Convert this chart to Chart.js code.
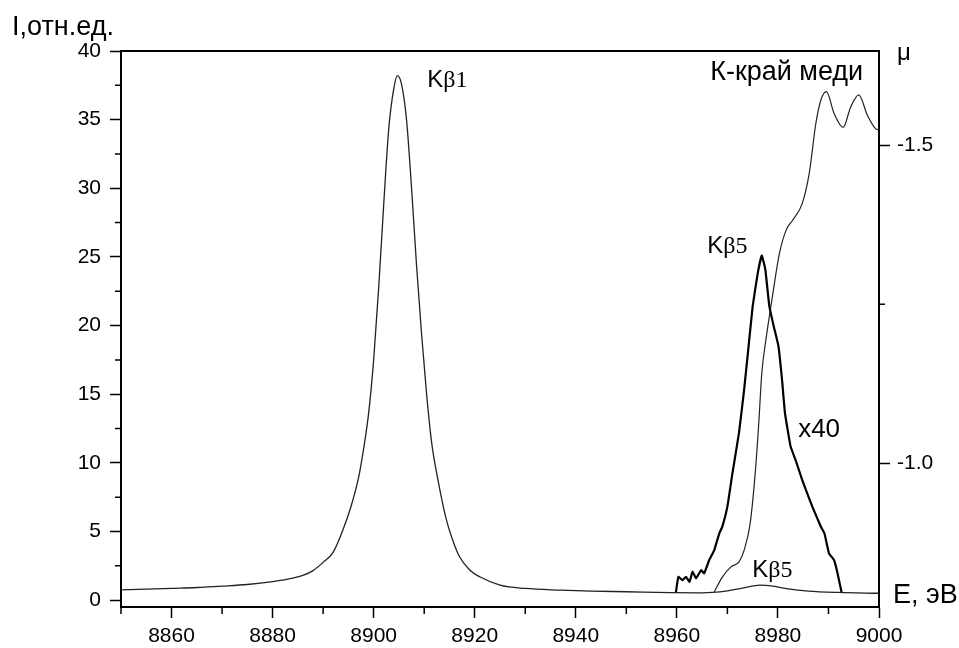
<!DOCTYPE html>
<html>
<head>
<meta charset="utf-8">
<script src="https://cdn.jsdelivr.net/npm/chart.js@4.4.0/dist/chart.umd.min.js"></script>
<style>html,body{margin:0;padding:0;background:#fff}</style>
</head>
<body>
<canvas id="c" width="959" height="648"></canvas>
<script>
// emission spectrum, thin line (left axis)
const specE = [8850, 8855, 8860, 8865, 8870, 8875, 8880, 8884, 8886, 8888, 8890, 8892, 8894, 8895.5, 8897, 8898, 8899,
  8900, 8901, 8902, 8903, 8904, 8904.7, 8905.5, 8906.5, 8907.5, 8908.5, 8909.5, 8910.5, 8911.5, 8912.7, 8914.4,
  8916, 8917, 8919, 8921, 8925, 8930, 8937, 8943, 8950, 8959, 8965,
  8967, 8970, 8973, 8976.5, 8979, 8982, 8986, 8992, 9000];
const specI = [0.75, 0.8, 0.86, 0.92, 1.02, 1.14, 1.35, 1.6, 1.8, 2.15, 2.75, 3.5, 5.2, 6.8, 8.9, 11.0, 13.6,
  17.5, 22.8, 28.9, 34.4, 37.3, 38.2, 37.6, 35.0, 30.0, 24.3, 19.3, 14.9, 11.4, 8.8, 5.84,
  4.0, 3.16, 2.2, 1.7, 1.09, 0.85, 0.73, 0.66, 0.61, 0.54, 0.53,
  0.56, 0.68, 0.88, 1.1, 1.02, 0.82, 0.66, 0.56, 0.5];

// Kβ5 line multiplied by 40, thick line (left axis)
const kb5E = [8959.8, 8960.3, 8961.1, 8961.8, 8962.5, 8963.1, 8963.8, 8964.8, 8965.4, 8966.4, 8967.4, 8968.4, 8969.0,
  8970.0, 8971.0, 8972.3, 8973.3, 8974.0, 8975.0, 8976.0, 8976.8, 8977.5, 8978.3, 8979.2, 8980.1, 8980.8, 8981.4,
  8982.5, 8983.5, 8984.8, 8986.8, 8988.5, 8989.2, 8990.1, 8991.1, 8991.8, 8992.6];
const kb5I = [0.55, 1.7, 1.46, 1.7, 1.34, 2.07, 1.58, 2.19, 1.95, 2.92, 3.65, 4.87, 5.35,
  6.81, 9.25, 12.2, 15.3, 17.8, 21.4, 23.8, 25.1, 24.1, 21.4, 19.9, 18.5, 16.1, 13.6,
  11.2, 10.2, 8.76, 6.81, 5.35, 4.87, 3.41, 2.92, 1.95, 0.55];

// copper K absorption edge, mu (right axis)
const edgeE = [8967.4, 8969.0, 8970.7, 8972.3, 8973.3, 8974.5, 8975.5, 8976.2, 8976.8, 8977.6, 8978.6, 8979.6,
  8980.3, 8981.6, 8982.9, 8984.8, 8986.2, 8987.5, 8988.5, 8989.6, 8991.1, 8992.9, 8994.4, 8996.0, 8997.7,
  8999.3, 9000];
const edgeMu = [-0.798, -0.821, -0.837, -0.845, -0.863, -0.905, -0.984, -1.062, -1.141, -1.193, -1.246, -1.298,
  -1.330, -1.366, -1.382, -1.408, -1.456, -1.534, -1.571, -1.584, -1.550, -1.528, -1.560, -1.579, -1.547,
  -1.526, -1.524];

const xTicks = [8860, 8880, 8900, 8920, 8940, 8960, 8980, 9000];
const xMinor = [8850, 8870, 8890, 8910, 8930, 8950, 8970, 8990];
const yTicks = [0, 5, 10, 15, 20, 25, 30, 35, 40];
const yMinor = [2.5, 7.5, 12.5, 17.5, 22.5, 27.5, 32.5, 37.5];
const muTicks = [-1.5, -1.0];
const muMinor = [-1.25];

const SANS = '"Liberation Sans", Arial, sans-serif';
const SERIF = '"Liberation Serif", "Times New Roman", serif';

const pts = (xs, ys) => xs.map((x, i) => ({ x, y: ys[i] }));

function kLabel(ctx, x, y, rest, size) {
  ctx.font = size + 'px ' + SANS;
  ctx.fillText('K', x, y);
  const w = ctx.measureText('K').width;
  ctx.font = size + 'px ' + SERIF;
  ctx.fillText(rest, x + w, y);
}

const framePlugin = {
  id: 'frame',
  afterDraw(chart) {
    const { ctx, chartArea: a } = chart;
    const { x, y, y2 } = chart.scales;
    ctx.save();
    ctx.strokeStyle = '#000';
    ctx.lineWidth = 2;
    ctx.beginPath();
    ctx.moveTo(a.left - 1, a.top);
    ctx.lineTo(a.right + 1, a.top);
    ctx.stroke();

    // minor ticks
    ctx.lineWidth = 1.5;
    ctx.beginPath();
    xMinor.forEach(v => { const p = x.getPixelForValue(v); ctx.moveTo(p, a.bottom); ctx.lineTo(p, a.bottom + 7); });
    yMinor.forEach(v => { const p = y.getPixelForValue(v); ctx.moveTo(a.left, p); ctx.lineTo(a.left - 6, p); });
    muMinor.forEach(v => { const p = y2.getPixelForValue(v); ctx.moveTo(a.right, p); ctx.lineTo(a.right + 6, p); });
    ctx.stroke();

    // annotations
    ctx.fillStyle = '#000';
    ctx.textAlign = 'left';
    ctx.textBaseline = 'alphabetic';
    kLabel(ctx, x.getPixelForValue(8910.6), y.getPixelForValue(37.4), 'β1', 24);
    kLabel(ctx, x.getPixelForValue(8966.0), y.getPixelForValue(25.3), 'β5', 24);
    kLabel(ctx, x.getPixelForValue(8974.9), y.getPixelForValue(1.7), 'β5', 24);
    ctx.font = '26px ' + SANS;
    ctx.fillText('x40', x.getPixelForValue(8984.0), y.getPixelForValue(11.9));
    ctx.font = '27px ' + SANS;
    ctx.fillText('К-край меди', x.getPixelForValue(8966.6), y.getPixelForValue(37.9));
    ctx.font = '27px ' + SANS;
    ctx.fillText('I,отн.ед.', 12, 35);
    ctx.fillText('E, эВ', a.right + 14, a.bottom - 4);
    ctx.font = '24px ' + SANS;
    ctx.fillText('μ', a.right + 18, a.top + 9);
    ctx.restore();
  }
};

const axisGrid = () => ({ drawOnChartArea: false, drawTicks: true, tickLength: 11, tickWidth: 1.5, tickColor: '#000' });
const axisBorder = () => ({ display: true, color: '#000', width: 2 });

new Chart(document.getElementById('c'), {
  type: 'line',
  data: {
    datasets: [
      { data: pts(specE, specI), borderColor: '#222', borderWidth: 1.3, pointRadius: 0, cubicInterpolationMode: 'monotone', yAxisID: 'y' },
      { data: pts(kb5E, kb5I), borderColor: '#000', borderWidth: 2.2, pointRadius: 0, tension: 0.1, yAxisID: 'y' },
      { data: pts(edgeE, edgeMu), borderColor: '#222', borderWidth: 1.2, pointRadius: 0, cubicInterpolationMode: 'monotone', yAxisID: 'y2' },
    ],
  },
  options: {
    responsive: false,
    animation: false,
    layout: { padding: { top: 51, left: 0, right: 0, bottom: 0 } },
    plugins: { legend: { display: false }, tooltip: { enabled: false } },
    scales: {
      x: {
        type: 'linear', min: 8850, max: 9000,
        afterBuildTicks: s => { s.ticks = xTicks.map(v => ({ value: v })); },
        afterFit: s => { s.height = 41; },
        grid: axisGrid(), border: axisBorder(),
        ticks: { color: '#000', font: { family: SANS, size: 21 }, padding: 6, maxRotation: 0, autoSkip: false, callback: v => String(v) },
      },
      y: {
        position: 'left', min: -0.5, max: 40,
        afterBuildTicks: s => { s.ticks = yTicks.map(v => ({ value: v })); },
        afterFit: s => { s.width = 121; },
        grid: axisGrid(), border: axisBorder(),
        ticks: { color: '#000', font: { family: SANS, size: 21 }, padding: 9, autoSkip: false, callback: v => String(v) },
      },
      y2: {
        position: 'right', reverse: true, min: -1.648, max: -0.774,
        afterBuildTicks: s => { s.ticks = muTicks.map(v => ({ value: v })); },
        afterFit: s => { s.width = 80; },
        grid: axisGrid(), border: axisBorder(),
        ticks: { color: '#000', font: { family: SANS, size: 21 }, padding: 7, autoSkip: false, callback: v => v.toFixed(1) },
      },
    },
  },
  plugins: [framePlugin],
});
</script>
</body>
</html>
